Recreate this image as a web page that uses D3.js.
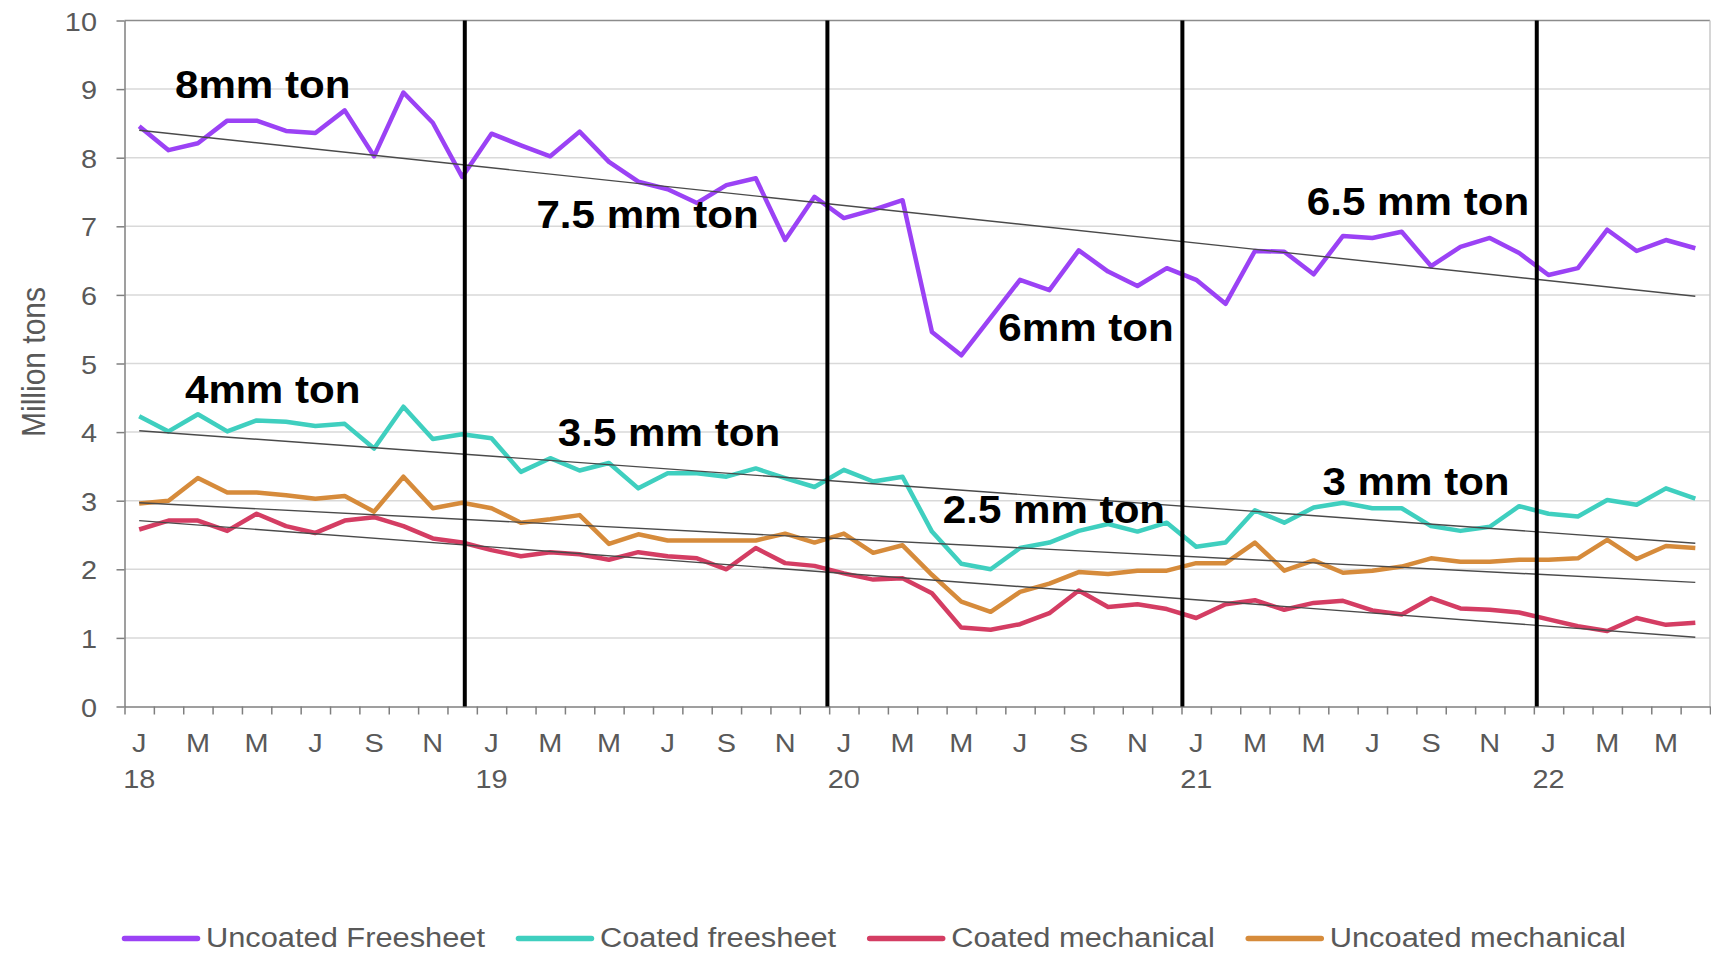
<!DOCTYPE html>
<html>
<head>
<meta charset="utf-8">
<script src="https://cdn.jsdelivr.net/npm/d3@7"></script>
<style>
  html, body { margin: 0; padding: 0; background: #fff; }
  svg { display: block; }
  text { font-family: "Liberation Sans", Arial, Helvetica, sans-serif; }
</style>
</head>
<body>
<svg id="chart" width="1711" height="953"></svg>
<script>
// Monthly demand, Jan 2018 - Jun 2022 (million tons)
const years = ["18", "19", "20", "21", "22"];
const monthLetters = ["J", "F", "M", "A", "M", "J", "J", "A", "S", "O", "N", "D"];
const monthCount = 54;

const seriesNames = ["Uncoated Freesheet", "Coated freesheet", "Coated mechanical", "Uncoated mechanical"];
const seriesColors = ["#9b42f5", "#3fcfbf", "#d43d63", "#d68b3b"];

const uncoatedFreesheet = [
  8.46, 8.11, 8.21, 8.54, 8.54, 8.39, 8.36, 8.69, 8.02, 8.95, 8.51, 7.72,
  8.35, 8.18, 8.02, 8.38, 7.94, 7.65, 7.54, 7.34, 7.60, 7.70, 6.80, 7.43,
  7.12, 7.24, 7.38, 5.46, 5.12, 5.67, 6.22, 6.07, 6.65, 6.34, 6.13, 6.39,
  6.22, 5.87, 6.64, 6.63, 6.30, 6.86, 6.83, 6.92, 6.42, 6.70, 6.83, 6.61,
  6.29, 6.39, 6.95, 6.64, 6.80, 6.68
];
const coatedFreesheet = [
  4.23, 4.01, 4.26, 4.01, 4.17, 4.15, 4.09, 4.12, 3.76, 4.37, 3.90, 3.97,
  3.91, 3.42, 3.62, 3.44, 3.55, 3.18, 3.40, 3.40, 3.35, 3.47, 3.33, 3.20,
  3.45, 3.28, 3.35, 2.55, 2.08, 2.00, 2.31, 2.39, 2.56, 2.66, 2.55, 2.68,
  2.33, 2.39, 2.86, 2.68, 2.90, 2.97, 2.89, 2.89, 2.63, 2.56, 2.62, 2.92,
  2.81, 2.77, 3.01, 2.94, 3.18, 3.03
];
const coatedMechanical = [
  2.58, 2.71, 2.71, 2.56, 2.81, 2.63, 2.53, 2.71, 2.76, 2.63, 2.45, 2.39,
  2.28, 2.19, 2.25, 2.22, 2.14, 2.25, 2.19, 2.16, 2.00, 2.31, 2.09, 2.05,
  1.94, 1.85, 1.87, 1.65, 1.15, 1.12, 1.20, 1.36, 1.69, 1.45, 1.49, 1.42,
  1.29, 1.49, 1.55, 1.41, 1.51, 1.54, 1.40, 1.34, 1.58, 1.43, 1.41, 1.37,
  1.27, 1.17, 1.10, 1.29, 1.19, 1.22
];
const uncoatedMechanical = [
  2.96, 3.00, 3.33, 3.12, 3.12, 3.08, 3.03, 3.07, 2.84, 3.35, 2.89, 2.97,
  2.89, 2.68, 2.73, 2.79, 2.37, 2.51, 2.42, 2.42, 2.42, 2.42, 2.52, 2.39,
  2.52, 2.24, 2.35, 1.92, 1.53, 1.38, 1.67, 1.79, 1.96, 1.93, 1.98, 1.98,
  2.09, 2.09, 2.39, 1.98, 2.13, 1.95, 1.98, 2.04, 2.16, 2.11, 2.11, 2.14,
  2.14, 2.16, 2.43, 2.15, 2.34, 2.31
];
const seriesValues = [uncoatedFreesheet, coatedFreesheet, coatedMechanical, uncoatedMechanical];

// Straight trend lines, first and last month values
const trendStart = [8.40, 4.02, 2.71, 2.97];
const trendEnd   = [5.98, 2.38, 1.01, 1.81];

// Year separators (month index units)
const dividerMonths = [11.09, 23.44, 35.53, 47.6];

// Volume annotations
const noteTexts  = ["8mm ton", "4mm ton", "7.5 mm ton", "3.5 mm ton", "6mm ton", "2.5 mm ton", "6.5 mm ton", "3 mm ton"];
const noteMonths = [1.22, 1.56, 13.53, 14.26, 29.26, 27.37, 39.77, 40.30];
const noteValues = [8.87, 4.42, 6.98, 3.80, 5.33, 2.68, 7.17, 3.09];

const yTicks = [0, 1, 2, 3, 4, 5, 6, 7, 8, 9, 10];

// ---- layout ----
const svg = d3.select("#chart");
const plot = { left: 124.5, right: 1710, top: 20.5, bottom: 706.5 };
const textGray = "#595959";
const stretch = 1.09;

const x = d3.scaleLinear().domain([-0.5, monthCount - 0.5]).range([plot.left, plot.right]);
const y = d3.scaleLinear().domain([0, 10]).range([plot.bottom, plot.top]);

// gridlines
svg.append("g")
  .selectAll("line")
  .data(yTicks.filter(v => v > 0 && v < 10))
  .join("line")
  .attr("x1", plot.left).attr("x2", plot.right)
  .attr("y1", d => y(d)).attr("y2", d => y(d))
  .attr("stroke", "#d9d9d9").attr("stroke-width", 1.5);

// frame: top and right edges
svg.append("line")
  .attr("x1", plot.left).attr("x2", plot.right)
  .attr("y1", y(10)).attr("y2", y(10))
  .attr("stroke", "#8c8c8c").attr("stroke-width", 1.5);
svg.append("line")
  .attr("x1", plot.right).attr("x2", plot.right)
  .attr("y1", y(10)).attr("y2", y(0))
  .attr("stroke", "#c8c8c8").attr("stroke-width", 1.5);

// y axis
const yAxis = svg.append("g")
  .attr("transform", `translate(${plot.left},0)`)
  .call(d3.axisLeft(y).tickValues(yTicks).tickSize(8).tickSizeOuter(0));
yAxis.select(".domain").attr("stroke", "#7f7f7f").attr("stroke-width", 1.5);
yAxis.selectAll(".tick line").attr("stroke", "#7f7f7f").attr("stroke-width", 1.5);
yAxis.selectAll(".tick text")
  .attr("x", null).attr("dy", "0.36em")
  .attr("transform", `translate(-27.5,0) scale(${stretch},1)`)
  .attr("font-size", 26.5).attr("fill", textGray)
  .attr("font-family", "'Liberation Sans', Arial, sans-serif");

// x axis: ticks on month boundaries
const boundaries = d3.range(monthCount + 1).map(i => i - 0.5);
const xAxis = svg.append("g")
  .attr("transform", `translate(0,${plot.bottom})`)
  .call(d3.axisBottom(x).tickValues(boundaries).tickSize(8).tickSizeOuter(0).tickFormat(""));
xAxis.select(".domain").attr("stroke", "#7f7f7f").attr("stroke-width", 1.5);
xAxis.selectAll(".tick line").attr("stroke", "#7f7f7f").attr("stroke-width", 1.5);

// month initials on alternating months, year under each January
const months = d3.range(monthCount).map(i => ({
  i, letter: monthLetters[i % 12], year: i % 12 === 0 ? years[i / 12] : null
}));
const labelG = svg.append("g").attr("fill", textGray).attr("font-size", 26.5);
labelG.selectAll("text.m")
  .data(months.filter(m => m.i % 2 === 0))
  .join("text").attr("class", "m")
  .attr("text-anchor", "middle")
  .attr("transform", d => `translate(${x(d.i)},${plot.bottom + 45.5}) scale(${stretch},1)`)
  .text(d => d.letter);
labelG.selectAll("text.yr")
  .data(months.filter(m => m.year !== null))
  .join("text").attr("class", "yr")
  .attr("text-anchor", "middle")
  .attr("transform", d => `translate(${x(d.i)},${plot.bottom + 81}) scale(${stretch},1)`)
  .text(d => d.year);

// y title
svg.append("text")
  .attr("transform", `translate(45,362) rotate(-90) scale(1,${stretch})`)
  .attr("text-anchor", "middle")
  .attr("font-size", 30).attr("fill", textGray)
  .text("Million tons");

// series lines
const line = d3.line().x((d, i) => x(i)).y(d => y(d));
svg.append("g")
  .selectAll("path")
  .data(seriesValues)
  .join("path")
  .attr("d", d => line(d))
  .attr("fill", "none")
  .attr("stroke", (d, i) => seriesColors[i])
  .attr("stroke-width", 4.5)
  .attr("stroke-linejoin", "round");

// trend lines
svg.append("g")
  .selectAll("line")
  .data(trendStart.map((s, i) => [s, trendEnd[i]]))
  .join("line")
  .attr("x1", x(0)).attr("x2", x(monthCount - 1))
  .attr("y1", d => y(d[0])).attr("y2", d => y(d[1]))
  .attr("stroke", "#4a4a4a").attr("stroke-width", 1.4);

// year separators
svg.append("g")
  .selectAll("line")
  .data(dividerMonths)
  .join("line")
  .attr("x1", d => x(d)).attr("x2", d => x(d))
  .attr("y1", y(10)).attr("y2", y(0))
  .attr("stroke", "#000").attr("stroke-width", 4);

// annotations
svg.append("g")
  .selectAll("text")
  .data(noteTexts.map((t, i) => ({ t, m: noteMonths[i], v: noteValues[i] })))
  .join("text")
  .attr("transform", d => `translate(${x(d.m)},${y(d.v)}) scale(1.08,1)`)
  .attr("font-size", 39).attr("font-weight", "bold").attr("fill", "#000")
  .text(d => d.t);

// legend
const legend = svg.append("g");
const legendStretch = 1.10;
let lx = 122;
seriesNames.forEach((name, i) => {
  legend.append("line")
    .attr("x1", lx + 2.5).attr("x2", lx + 75.5)
    .attr("y1", 938.5).attr("y2", 938.5)
    .attr("stroke", seriesColors[i]).attr("stroke-width", 5.5)
    .attr("stroke-linecap", "round");
  const t = legend.append("text")
    .attr("transform", `translate(${lx + 84},947) scale(${legendStretch},1)`)
    .attr("font-size", 28).attr("fill", textGray)
    .text(name);
  const w = t.node().getComputedTextLength() * legendStretch;
  lx = lx + 84 + w + 31;
});
</script>
</body>
</html>
